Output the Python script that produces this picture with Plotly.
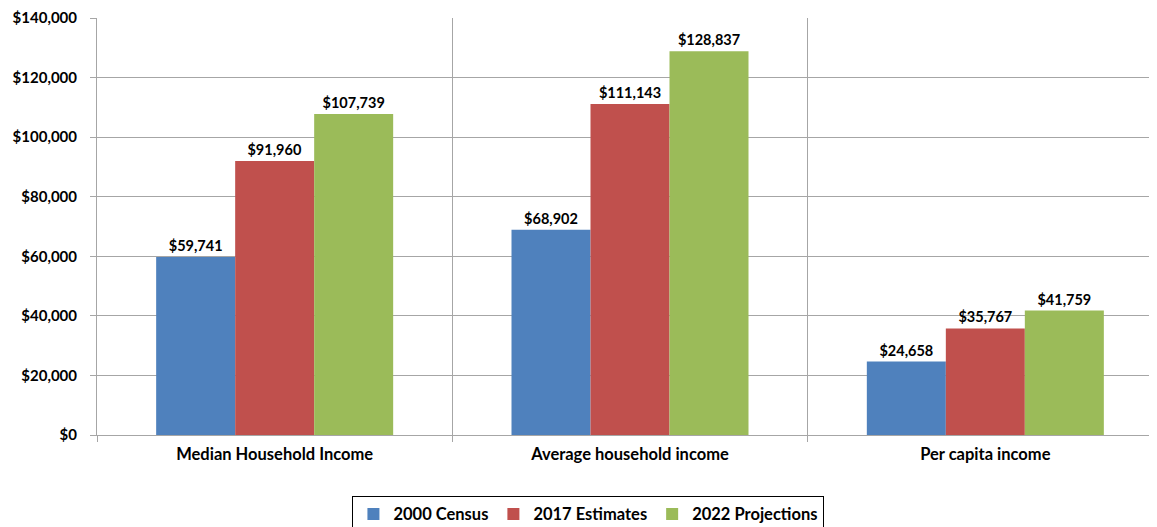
import plotly.graph_objects as go

categories = ["Median Household Income", "Average household income", "Per capita income"]
series_names = ["2000 Census", "2017 Estimates", "2022 Projections"]
census_2000 = [59741, 68902, 24658]
estimates_2017 = [91960, 111143, 35767]
projections_2022 = [107739, 128837, 41759]
colors = ["#4F81BD", "#C0504D", "#9BBB59"]
y_ticks = [0, 20000, 40000, 60000, 80000, 100000, 120000, 140000]
y_tick_labels = ["$0", "$20,000", "$40,000", "$60,000", "$80,000", "$100,000", "$120,000", "$140,000"]

FONT = "Lato, 'Open Sans', sans-serif"

fig = go.Figure()
for name, vals, col in zip(series_names, [census_2000, estimates_2017, projections_2022], colors):
    fig.add_trace(go.Bar(
        name=f"<b>{name}</b>", x=categories, y=vals, marker=dict(color=col, line=dict(width=0)),
        text=[f"<b>${v:,}</b>" for v in vals], textposition="outside",
        textfont=dict(size=14.5, color="black", family=FONT), cliponaxis=False,
    ))

fig.update_layout(
    width=1157, height=527,
    margin=dict(l=89, r=2, t=10, b=98),
    paper_bgcolor="white", plot_bgcolor="white",
    barmode="group", bargap=0.333, bargroupgap=0,
    font=dict(family=FONT, size=15, color="black"),
    showlegend=True,
    legend=dict(orientation="h", x=0.461, xanchor="center", y=-0.1456, yanchor="top",
                bordercolor="black", borderwidth=1, font=dict(size=16.5, family=FONT),
                itemwidth=30, traceorder="normal"),
)
fig.update_xaxes(
    type="category", range=[-0.5, 2.5], tickson="boundaries", automargin=False,
    showgrid=True, gridcolor="#A6A6A6", gridwidth=1,
    showline=True, linecolor="#A6A6A6", ticks="outside", ticklen=6, tickcolor="#A6A6A6",
    tickfont=dict(size=16.5, family=FONT), ticklabelstandoff=4,
    tickvals=categories, ticktext=[f"<b>{c}</b>" for c in categories],
)
fig.update_yaxes(
    range=[0, 140000], tickvals=y_ticks, ticktext=[f"<b>{t}</b>" for t in y_tick_labels],
    automargin=False,
    showgrid=True, gridcolor="#A6A6A6", gridwidth=1, zeroline=False,
    showline=True, linecolor="#A6A6A6", ticks="outside", ticklen=6, tickcolor="#A6A6A6",
    tickfont=dict(size=15, family=FONT), ticklabelstandoff=10,
)
fig.write_html("out.html", config={"displayModeBar": False})
